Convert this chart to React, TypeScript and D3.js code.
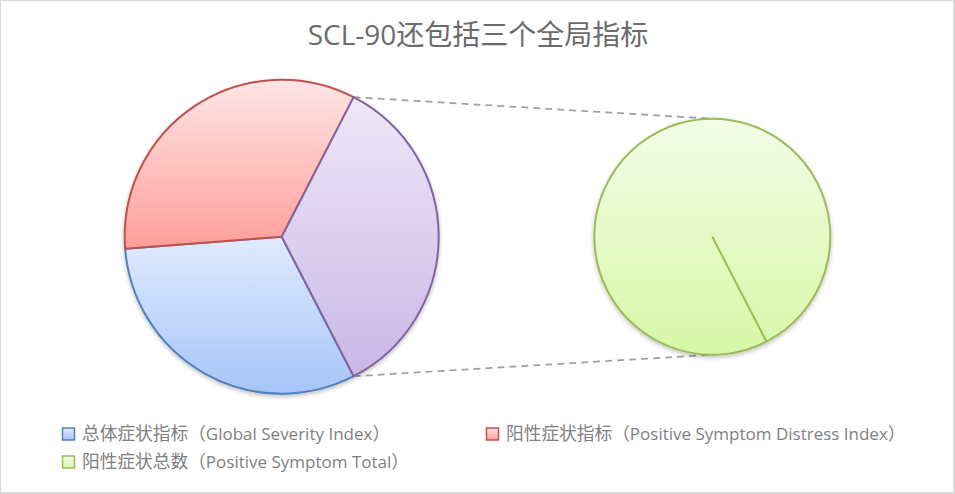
import React from "react";
import * as d3 from "d3";

const title = "SCL-90还包括三个全局指标";
const categories = [
  "总体症状指标（Global Severity Index）",
  "阳性症状指标（Positive Symptom Distress Index）",
  "阳性症状总数（Positive Symptom Total）",
];
const values = [90, 97, 100];
// last category goes to the secondary pie
const secondaryCount = 1;

const W = 955, H = 494;
const strokes = ["#4f81bd", "#c0504d", "#9bbb59", "#8064a2"];
const gradTop = ["#e0ebfe", "#ffe6e6", "#f3fde8", "#eee8f8"];
const gradBot = ["#a7c5f9", "#ff9e9a", "#d7f7a6", "#cab7e6"];

function splitLabel(s: string) {
  const a = s.indexOf("（");
  const b = s.lastIndexOf("）");
  return { cjk: s.slice(0, a + 1), latin: s.slice(a + 1, b), close: s.slice(b) };
}

export default function App() {
  const mainVals = values.slice(0, values.length - secondaryCount);
  const otherVal = d3.sum(values.slice(values.length - secondaryCount));
  const secVals = values.slice(values.length - secondaryCount);
  const total = d3.sum(values);
  const otherFrac = otherVal / total;
  const start = Math.PI / 2 + otherFrac * Math.PI;

  const main = { cx: 281.7, cy: 236.7, r: 157 };
  const sec = { cx: 712.3, cy: 236.7, r: 118 };

  const pie = d3.pie<number>().sort(null).startAngle(start).endAngle(start + 2 * Math.PI);
  const mainArcs = pie([...mainVals, otherVal]);
  const arc = d3.arc<d3.PieArcDatum<number>>().innerRadius(0).outerRadius(main.r);

  const secPie = d3.pie<number>().sort(null).startAngle(start).endAngle(start + 2 * Math.PI);
  const secArcs = secPie(secVals);
  const secArc = d3.arc<d3.PieArcDatum<number>>().innerRadius(0).outerRadius(sec.r);

  const otherArc = mainArcs[mainArcs.length - 1];
  const pt = (c: { cx: number; cy: number }, r: number, a: number) => [
    c.cx + r * Math.sin(a),
    c.cy - r * Math.cos(a),
  ];
  const pTop = pt(main, main.r, otherArc.startAngle);
  const pBot = pt(main, main.r, otherArc.endAngle);

  const legendPos = [
    { x: 62, y: 434 },
    { x: 486, y: 434 },
    { x: 62, y: 462 },
  ];
  const latinFont = "'Open Sans', sans-serif";
  const cjkFont = "'Noto Sans CJK SC', sans-serif";

  return (
    <svg width={W} height={H} style={{ position: "fixed", left: 0, top: 0 }} fontFamily={latinFont}>
      <defs>
        {strokes.map((s, i) => (
          <linearGradient key={i} id={`g${i}`} x1="0" y1="0" x2="0" y2="1">
            <stop offset="0" stopColor={gradTop[i]} />
            <stop offset="1" stopColor={gradBot[i]} />
          </linearGradient>
        ))}
        <filter id="sh" x="-10%" y="-10%" width="120%" height="130%">
          <feGaussianBlur in="SourceAlpha" stdDeviation="2" />
          <feOffset dx="0" dy="2" result="b" />
          <feComponentTransfer>
            <feFuncA type="linear" slope="0.25" />
          </feComponentTransfer>
          <feMerge>
            <feMergeNode />
            <feMergeNode in="SourceGraphic" />
          </feMerge>
        </filter>
      </defs>
      <rect x={0} y={0} width={W} height={H} fill="#d9d9d9" />
      <rect x={1} y={1} width={W - 3} height={H - 3} fill="#fff" />
      <text x={478} y={45} textAnchor="middle" fontSize={28} fill="#6b6b6b">
        <tspan>{title.slice(0, 6)}</tspan>
        <tspan fontFamily={cjkFont}>{title.slice(6)}</tspan>
      </text>

      <line x1={pTop[0]} y1={pTop[1]} x2={sec.cx} y2={sec.cy - sec.r} stroke="#a0a0a0" strokeWidth={1.75} strokeDasharray="7 5" />
      <line x1={pBot[0]} y1={pBot[1]} x2={sec.cx} y2={sec.cy + sec.r} stroke="#a0a0a0" strokeWidth={1.75} strokeDasharray="7 5" />

      <g transform={`translate(${main.cx},${main.cy})`} filter="url(#sh)">
        {mainArcs.map((a, i) => {
          const ci = i === mainArcs.length - 1 ? 3 : i;
          return (
            <path key={i} d={arc(a) || ""} fill={`url(#g${ci})`} stroke={strokes[ci]} strokeWidth={2} strokeLinejoin="round" />
          );
        })}
      </g>

      <g transform={`translate(${sec.cx},${sec.cy})`} filter="url(#sh)">
        {secArcs.map((a, i) => {
          const ci = mainVals.length + i;
          const e = pt({ cx: 0, cy: 0 }, sec.r, a.startAngle);
          return (
            <g key={i}>
              <path d={secArc(a) || ""} fill={`url(#g${ci})`} stroke={strokes[ci]} strokeWidth={2} />
              <line x1={0} y1={0} x2={e[0]} y2={e[1]} stroke={strokes[ci]} strokeWidth={2} />
            </g>
          );
        })}
      </g>

      {categories.map((c, i) => {
        const p = splitLabel(c);
        return (
          <g key={i} transform={`translate(${legendPos[i].x},${legendPos[i].y})`}>
            <rect x={0.5} y={-6} width={12} height={12} fill={`url(#g${i})`} stroke={strokes[i]} strokeWidth={1.5} />
            <text x={20} y={0} dy="0.36em" fontSize={17} fill="#7f7f7f">
              <tspan fontFamily={cjkFont} fontSize={17.7}>{p.cjk}</tspan>
              <tspan>{p.latin}</tspan>
              <tspan fontFamily={cjkFont} fontSize={17.7}>{p.close}</tspan>
            </text>
          </g>
        );
      })}
    </svg>
  );
}
